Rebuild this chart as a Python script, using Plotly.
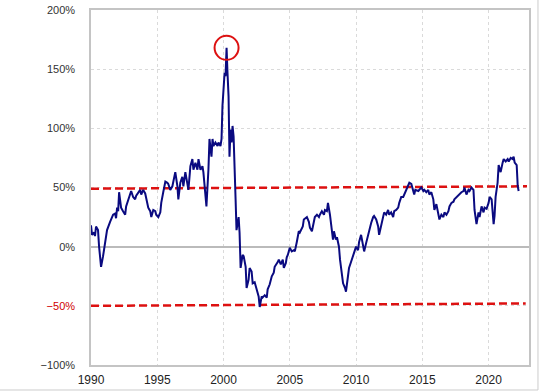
import plotly.graph_objects as go

years = [1990.00,1990.08,1990.23,1990.30,1990.38,1990.53,1990.61,1990.76,1990.91,1991.06,1991.21,1991.44,1991.67,1991.82,1991.89,1991.97,1992.05,1992.12,1992.20,1992.27,1992.42,1992.58,1992.65,1992.80,1992.95,1993.03,1993.18,1993.33,1993.41,1993.56,1993.71,1993.79,1993.94,1994.09,1994.17,1994.32,1994.47,1994.55,1994.70,1994.85,1994.92,1995.08,1995.23,1995.30,1995.45,1995.61,1995.76,1995.83,1995.98,1996.14,1996.36,1996.52,1996.59,1996.74,1996.89,1996.97,1997.12,1997.27,1997.35,1997.50,1997.65,1997.73,1997.88,1998.03,1998.11,1998.26,1998.41,1998.48,1998.64,1998.71,1998.86,1998.94,1999.09,1999.17,1999.24,1999.39,1999.55,1999.62,1999.77,1999.85,1999.92,2000.00,2000.08,2000.15,2000.23,2000.30,2000.38,2000.45,2000.53,2000.61,2000.68,2000.76,2000.83,2000.91,2000.98,2001.14,2001.21,2001.29,2001.44,2001.52,2001.67,2001.74,2001.89,2001.97,2002.12,2002.20,2002.35,2002.50,2002.65,2002.73,2002.88,2002.95,2003.11,2003.26,2003.33,2003.48,2003.64,2003.79,2003.86,2004.09,2004.17,2004.32,2004.47,2004.55,2004.70,2004.77,2004.85,2005.00,2005.15,2005.30,2005.38,2005.53,2005.68,2005.76,2005.83,2005.98,2006.06,2006.29,2006.44,2006.52,2006.67,2006.82,2006.89,2007.05,2007.20,2007.27,2007.42,2007.58,2007.65,2007.80,2007.88,2008.03,2008.11,2008.18,2008.26,2008.33,2008.48,2008.56,2008.71,2008.79,2008.94,2009.02,2009.17,2009.24,2009.39,2009.47,2009.62,2009.77,2009.85,2010.00,2010.15,2010.23,2010.38,2010.53,2010.61,2010.76,2010.91,2010.98,2011.14,2011.29,2011.36,2011.52,2011.67,2011.74,2011.89,2012.05,2012.12,2012.27,2012.42,2012.50,2012.65,2012.80,2012.88,2013.03,2013.18,2013.26,2013.41,2013.56,2013.64,2013.79,2013.94,2014.02,2014.17,2014.32,2014.39,2014.47,2014.70,2014.77,2014.92,2015.08,2015.15,2015.30,2015.45,2015.53,2015.68,2015.83,2015.91,2016.06,2016.21,2016.29,2016.44,2016.59,2016.67,2016.82,2016.97,2017.05,2017.20,2017.35,2017.42,2017.58,2017.73,2017.80,2017.95,2018.11,2018.18,2018.33,2018.48,2018.56,2018.71,2018.86,2018.94,2019.09,2019.24,2019.32,2019.47,2019.62,2019.70,2019.85,2020.00,2020.08,2020.23,2020.38,2020.45,2020.53,2020.68,2020.76,2020.91,2021.06,2021.14,2021.29,2021.44,2021.52,2021.67,2021.82,2021.89,2021.97,2022.12,2022.20,2022.27]

values = [18,10,12,9,17,14,0,-17,-8,2,14,21,27,28,24,33,30,46,38,33,30,27,34,40,46,47,42,40,43,46,48,44,48,45,40,33,30,25,31,30,27,25,29,37,46,55,54,53,48,51,63,51,40,54,59,51,63,54,48,68,74,65,71,65,74,65,68,63,42,34,65,91,76,91,85,88,85,88,85,91,119,139,147,144,168,147,127,76,99,88,102,93,74,40,14,25,12,-18,-7,-8,-17,-35,-28,-18,-21,-31,-30,-36,-42,-51,-42,-43,-41,-43,-36,-32,-25,-22,-17,-13,-11,-15,-11,-18,-14,-9,-7,-1,-4,-3,-4,4,13,12,14,17,23,25,21,16,13,20,25,27,25,27,30,27,31,30,37,27,21,14,6,13,6,8,0,-11,-25,-31,-35,-38,-25,-18,-13,-8,-4,0,-3,4,10,-1,-4,3,10,14,20,25,26,23,17,10,17,25,29,27,31,27,29,25,30,31,33,37,42,42,44,48,53,54,53,48,44,48,47,48,50,47,48,46,48,44,46,40,31,36,25,23,27,25,29,27,30,34,37,38,40,42,43,44,46,47,50,44,48,47,50,48,31,19,29,25,34,29,33,32,37,42,40,19,26,42,54,69,63,71,74,72,74,72,75,74,76,71,69,51,47]

upper_x = [1990.0, 2022.9]
upper_y = [49, 51]
lower_x = [1990.0, 2022.8]
lower_y = [-50, -48]

y_ticks = [200, 150, 100, 50, 0, -50, -100]
y_ticktext = ["200%", "150%", "100%", "50%", "0%", "<span style='color:#d00000'>−50%</span>", "−100%"]
x_ticks = [1990, 1995, 2000, 2005, 2010, 2015, 2020]

fig = go.Figure()
fig.add_trace(go.Scatter(x=upper_x, y=upper_y, mode="lines",
                         line=dict(color="#dd1111", width=2.5, dash="8px,4px"), hoverinfo="skip"))
fig.add_trace(go.Scatter(x=lower_x, y=lower_y, mode="lines",
                         line=dict(color="#dd1111", width=2.5, dash="8px,4px"), hoverinfo="skip"))
fig.add_trace(go.Scatter(x=years, y=values, mode="lines",
                         line=dict(color="#0a0a80", width=2)))

pk = values.index(max(values))
fig.add_shape(type="circle", xref="x", yref="y", xsizemode="pixel", ysizemode="pixel",
              xanchor=years[pk], yanchor=values[pk], x0=-12, x1=12, y0=-12, y1=12,
              line=dict(color="#dd1111", width=2))

# outer frame lines of the picture
fig.add_shape(type="line", xref="paper", yref="paper", x0=1.0205, x1=1.0205, y0=-0.0704, y1=1.03,
              line=dict(color="#cccccc", width=1))
fig.add_shape(type="line", xref="paper", yref="paper", x0=-0.208, x1=1.0205, y0=-0.0704, y1=-0.0704,
              line=dict(color="#cccccc", width=1))

fig.update_layout(
    width=540, height=391,
    margin=dict(l=91, r=11, t=10, b=26, autoexpand=False),
    paper_bgcolor="white", plot_bgcolor="white",
    showlegend=False,
    font=dict(family="Liberation Sans, Arial, sans-serif", size=11, color="#333333"),
)
fig.update_xaxes(range=[1990, 2023.05], tickvals=x_ticks, ticktext=[str(t) for t in x_ticks],
                 showgrid=True, gridcolor="#dadada", griddash="dot", gridwidth=1,
                 showline=True, linecolor="#c4c4c4", linewidth=1.5, mirror=True,
                 zeroline=False, ticks="", ticklabelstandoff=3, automargin=False,
                 tickfont=dict(size=12, color="#222222"))
fig.update_yaxes(range=[-100, 200], tickvals=y_ticks, ticktext=y_ticktext,
                 showgrid=True, gridcolor="#dadada", griddash="dot", gridwidth=1,
                 showline=True, linecolor="#c4c4c4", linewidth=1.5, mirror=True,
                 zeroline=True, zerolinecolor="#bbbbbb", zerolinewidth=1.5,
                 ticks="", ticklabelstandoff=12, automargin=False, ticklabeloverflow="allow",
                 tickfont=dict(size=11, color="#333333"))

fig.write_html("out.html", config={"displayModeBar": False},
               post_script="document.body.style.margin='0';")
